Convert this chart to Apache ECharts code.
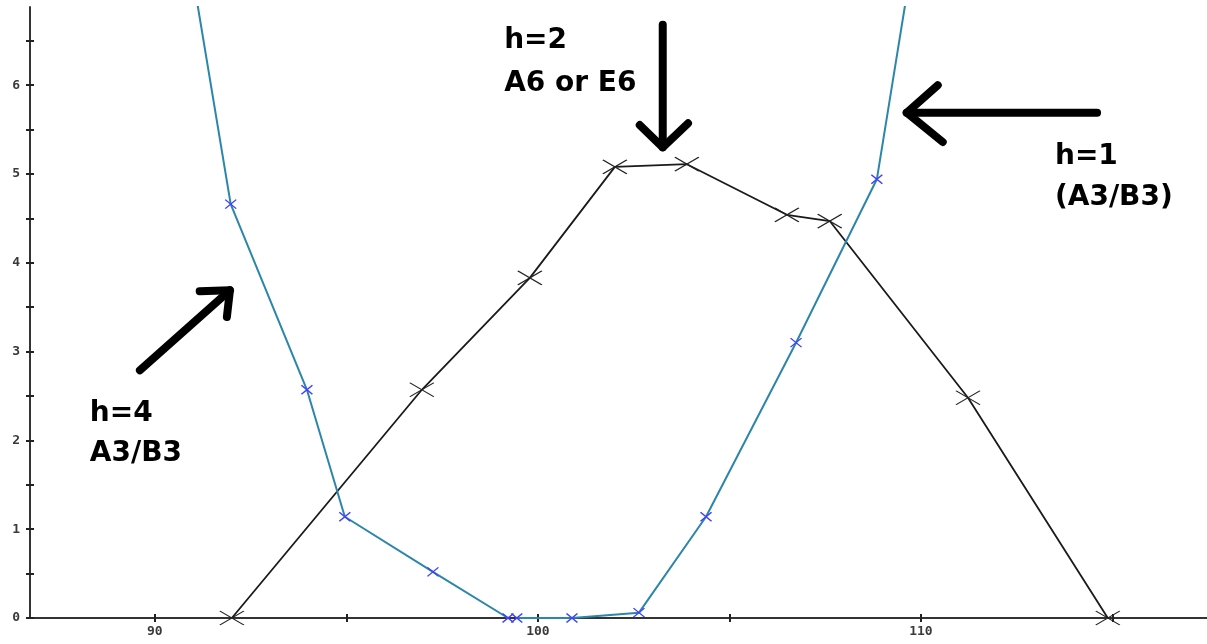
<!DOCTYPE html>
<html>
<head>
<meta charset="utf-8">
<script src="https://cdn.jsdelivr.net/npm/echarts@6/dist/echarts.min.js"></script>
<style>
  html, body { margin: 0; padding: 0; background: #fff; }
  #chart { width: 1207px; height: 644px; }
</style>
</head>
<body>
<div id="chart"></div>
<script>
// h=2 curve (A6 or E6)
const h2X = [92.01, 96.97, 99.79, 102.01, 103.89, 106.50, 107.62, 111.23, 114.88];
const h2Y = [0, 2.57, 3.83, 5.08, 5.11, 4.54, 4.47, 2.48, 0];

// h=4 curve (A3/B3), first point lies above the plotted range
const h4X = [90.5, 91.98, 93.97, 94.96, 97.26, 99.22];
const h4Y = [8.5, 4.66, 2.57, 1.14, 0.52, 0];

// h=1 curve (A3/B3), last point lies above the plotted range
const h1X = [99.45, 100.89, 102.64, 104.39, 106.74, 108.85, 110.0];
const h1Y = [0, 0, 0.06, 1.14, 3.10, 4.94, 8.0];

// axis ranges and ticks
const xRange = [86.74, 117.47];
const yRange = [0, 6.88];
const xTicks = [90, 95, 100, 105, 110, 115];
const xLabels = [90, 100, 110];
const yTicks = [0, 0.5, 1, 1.5, 2, 2.5, 3, 3.5, 4, 4.5, 5, 5.5, 6, 6.5];
const yLabels = [0, 1, 2, 3, 4, 5, 6];

// annotation texts: [x, y, text] in data units (left edge, bottom of text box)
const notes = [
  [99.12, 6.34, 'h=2'],
  [99.12, 5.86, 'A6 or E6'],
  [113.50, 5.04, 'h=1'],
  [113.50, 4.58, '(A3/B3)'],
  [88.30, 2.14, 'h=4'],
  [88.30, 1.69, 'A3/B3']
];

// arrows: shaft [from, to] and the two head arms, in data units
const arrows = [
  { from: [103.26, 6.68], to: [103.26, 5.30], armA: [102.66, 5.55], armB: [103.92, 5.57] },
  { from: [114.60, 5.69], to: [109.63, 5.69], armA: [110.44, 6.00], armB: [110.57, 5.36] },
  { from: [89.61, 2.79], to: [91.96, 3.69], armA: [91.17, 3.68], armB: [91.88, 3.39] }
];

const pairs = (xs, ys) => xs.map((x, i) => [x, ys[i]]);

const blueLine = '#2c86aa';
const blueMark = '#3f3fff';
const crossPath = 'path://M0,0L10,8M0,8L10,0';

const tickFont = { fontFamily: 'DejaVu Sans Mono', fontSize: 13, fontWeight: 'bold', color: '#3a3a3a' };

const chart = echarts.init(document.getElementById('chart'), null, { renderer: 'canvas' });

function blueSeries(name, xs, ys) {
  return {
    name: name,
    type: 'line',
    xAxisIndex: 0,
    yAxisIndex: 0,
    data: pairs(xs, ys),
    clip: true,
    symbol: crossPath,
    symbolSize: [11, 9],
    showAllSymbol: true,
    itemStyle: { color: 'rgba(0,0,0,0)', borderColor: blueMark, borderWidth: 1.3 },
    lineStyle: { color: blueLine, width: 2 },
    emphasis: { disabled: true },
    z: 3
  };
}

chart.setOption({
  animation: false,
  backgroundColor: '#fff',
  grid: { left: 30, right: 0, top: 7, bottom: 26, containLabel: false, outerBoundsMode: 'none' },
  xAxis: [
    {
      type: 'value', min: xRange[0], max: xRange[1], position: 'bottom',
      splitLine: { show: false },
      axisLine: { show: true, onZero: false, lineStyle: { color: '#333', width: 2 } },
      axisTick: { show: true, customValues: xTicks, length: 4, lineStyle: { color: '#222', width: 2 } },
      axisLabel: Object.assign({ customValues: xLabels, margin: 7 }, tickFont)
    },
    {
      type: 'value', min: xRange[0], max: xRange[1], position: 'bottom',
      splitLine: { show: false },
      axisLine: { show: false, onZero: false },
      axisTick: { show: true, inside: true, customValues: xTicks, length: 4, lineStyle: { color: '#222', width: 2 } },
      axisLabel: { show: false }
    }
  ],
  yAxis: [
    {
      type: 'value', min: yRange[0], max: yRange[1], position: 'left',
      splitLine: { show: false },
      axisLine: { show: true, onZero: false, lineStyle: { color: '#333', width: 2 } },
      axisTick: { show: true, customValues: yTicks, length: 4, lineStyle: { color: '#222', width: 2 } },
      axisLabel: Object.assign({ customValues: yLabels, margin: 10 }, tickFont)
    },
    {
      type: 'value', min: yRange[0], max: yRange[1], position: 'left',
      splitLine: { show: false },
      axisLine: { show: false, onZero: false },
      axisTick: { show: true, inside: true, customValues: yTicks, length: 4, lineStyle: { color: '#222', width: 2 } },
      axisLabel: { show: false }
    }
  ],
  series: [
    {
      name: 'h=2',
      type: 'line',
      data: pairs(h2X, h2Y),
      clip: true,
      symbol: crossPath,
      symbolSize: [24, 14],
      showAllSymbol: true,
      itemStyle: { color: 'rgba(0,0,0,0)', borderColor: '#222', borderWidth: 1.3 },
      lineStyle: { color: '#1a1a1a', width: 1.8 },
      emphasis: { disabled: true },
      z: 2
    },
    blueSeries('h=4', h4X, h4Y),
    blueSeries('h=1', h1X, h1Y)
  ]
});

// annotations placed through the grid's coordinate system
const px = p => chart.convertToPixel({ xAxisIndex: 0, yAxisIndex: 0 }, p);
const graphics = [];
arrows.forEach(a => {
  const style = { stroke: '#000', lineWidth: 8, lineCap: 'round', lineJoin: 'round', fill: null };
  graphics.push({ type: 'polyline', shape: { points: [px(a.from), px(a.to)] }, style: style, z: 10 });
  graphics.push({ type: 'polyline', shape: { points: [px(a.armA), px(a.to), px(a.armB)] }, style: style, z: 10 });
});
notes.forEach(n => {
  const p = px([n[0], n[1]]);
  graphics.push({
    type: 'text', x: p[0], y: p[1], z: 10,
    style: {
      text: n[2], fill: '#000',
      font: 'bold 28px "DejaVu Sans"',
      align: 'left', verticalAlign: 'bottom'
    }
  });
});
chart.setOption({ graphic: graphics });
</script>
</body>
</html>
